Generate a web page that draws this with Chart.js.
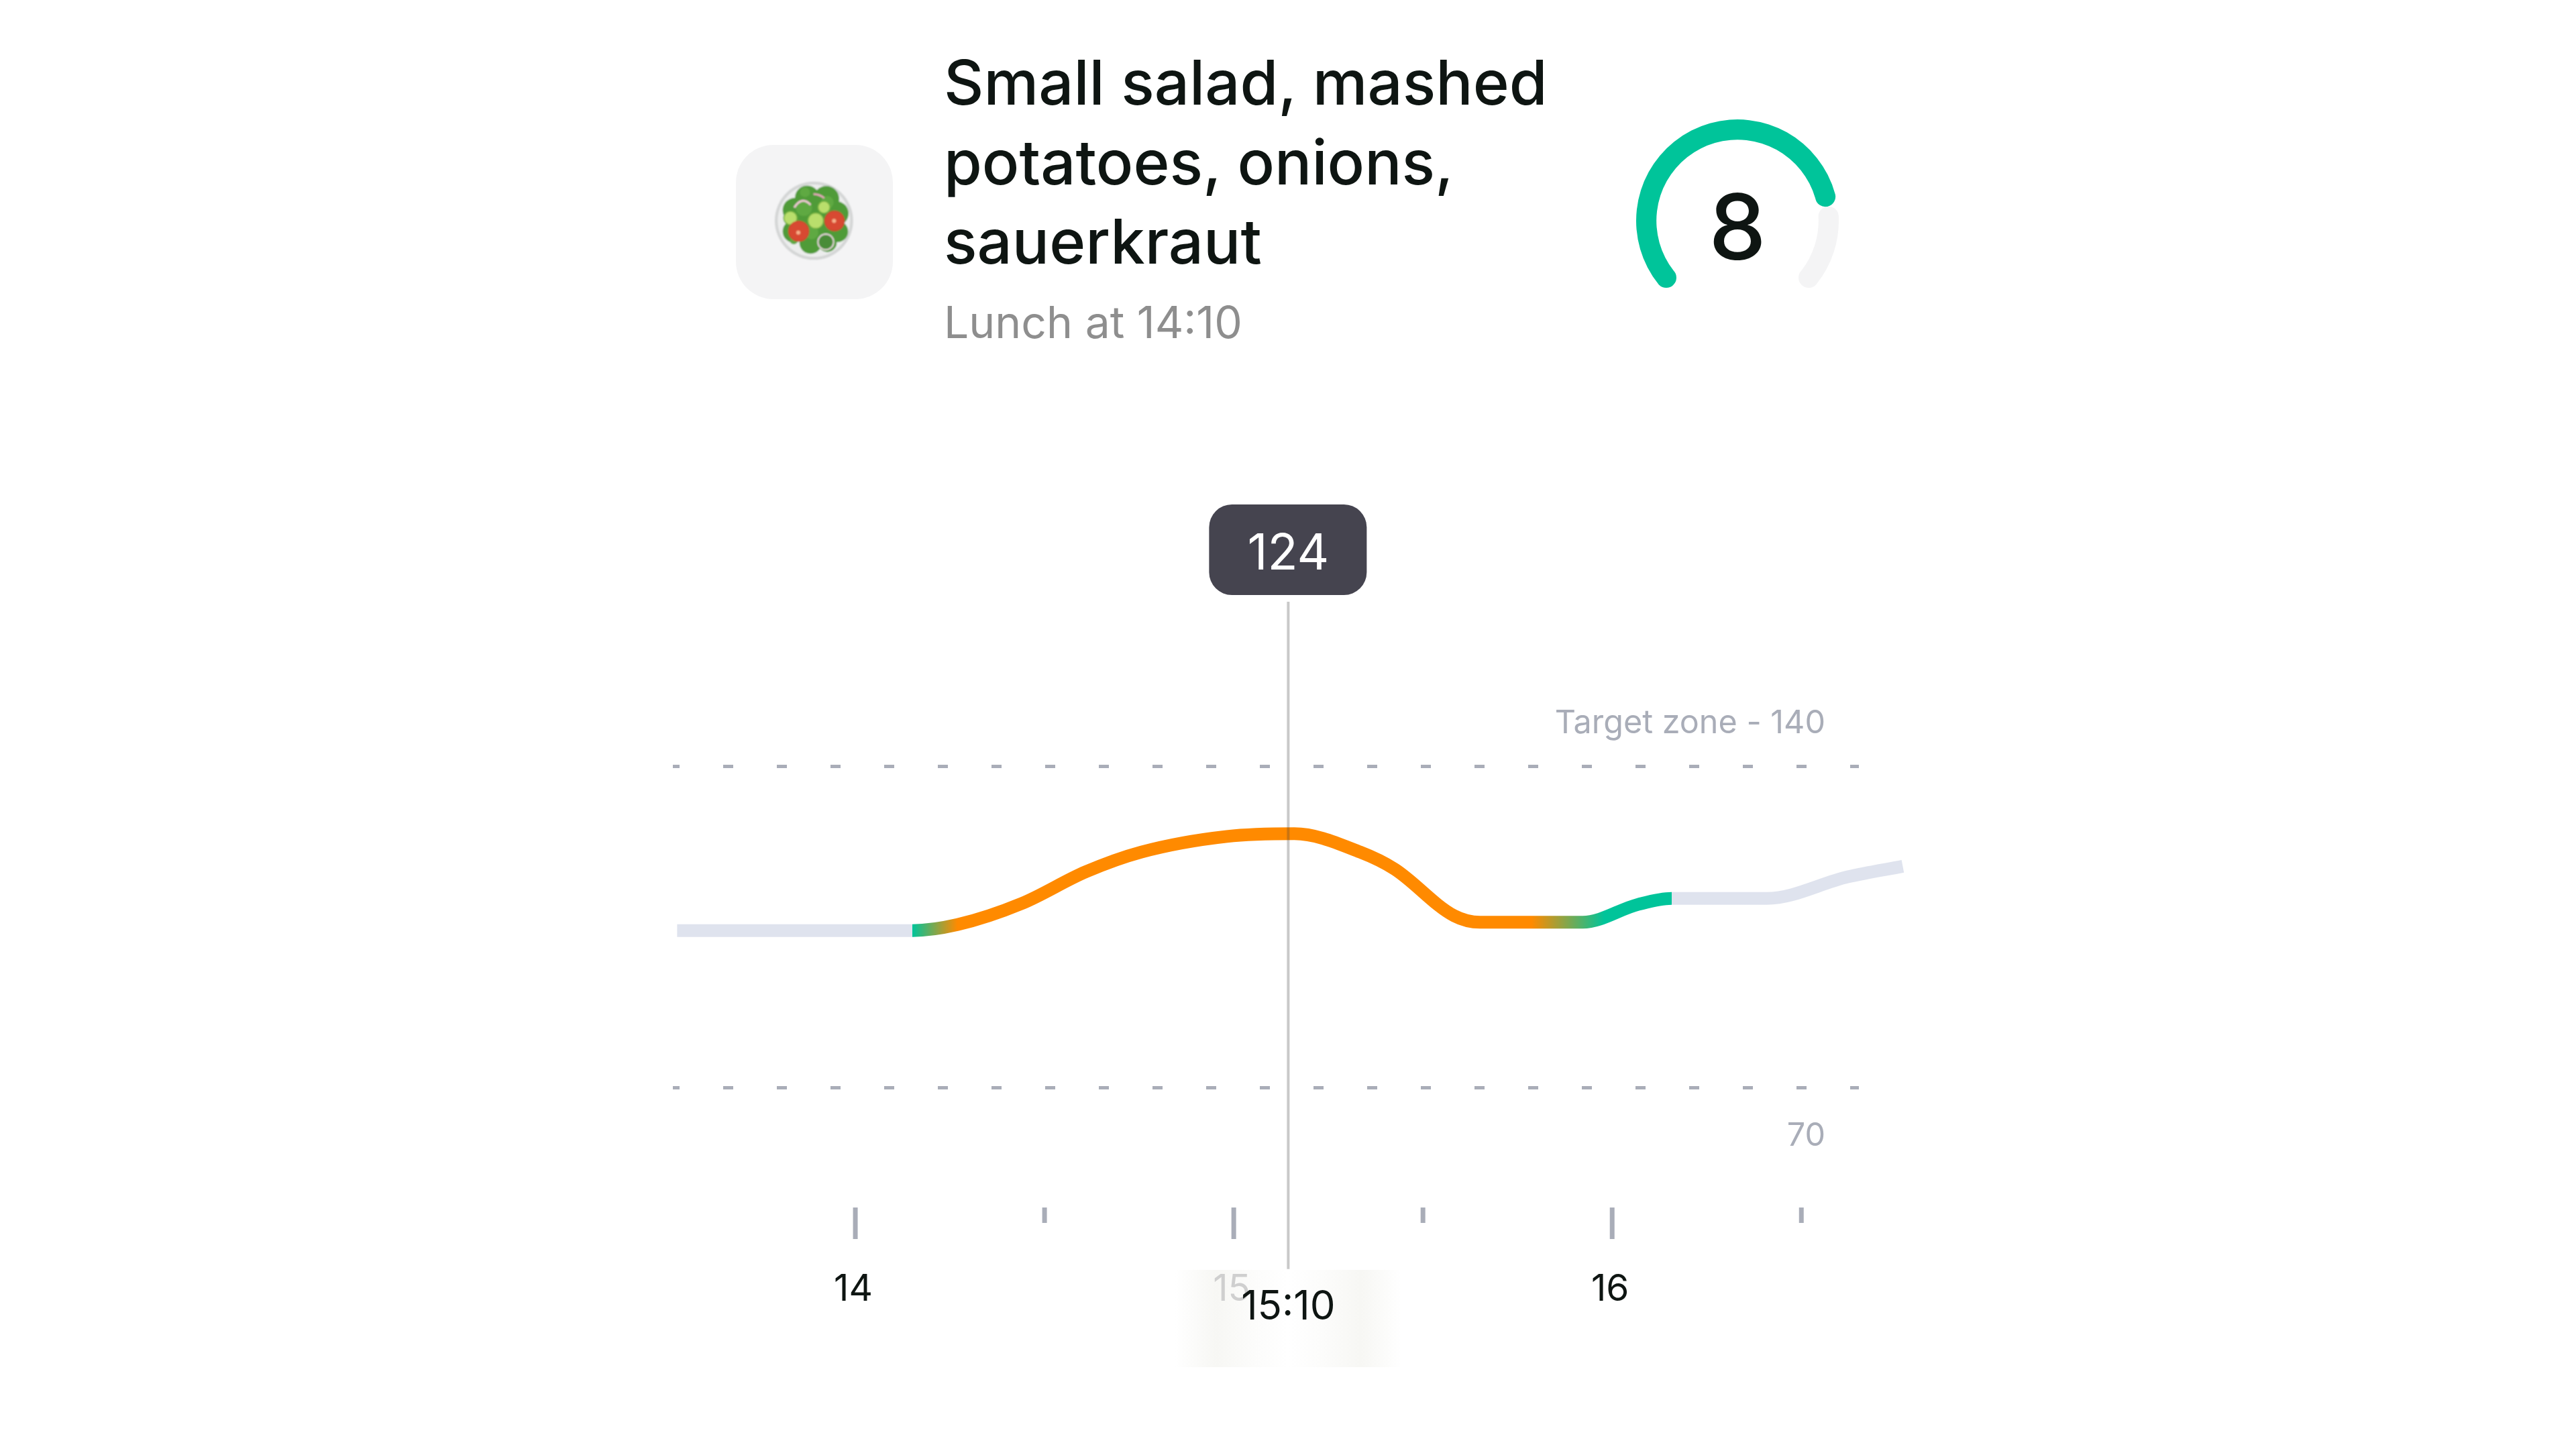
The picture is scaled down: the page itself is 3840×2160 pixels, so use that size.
<!DOCTYPE html>
<html>
<head>
<meta charset="utf-8"/>
<title>Small salad, mashed potatoes, onions, sauerkraut</title>
<script src="https://cdn.jsdelivr.net/npm/chart.js@4"></script>
<style>
html, body{ margin: 0; padding: 0; width: 3840px; height: 2160px; background: #fff; overflow: hidden; font-family: Inter, sans-serif; }
#mychart{ position: absolute; left: 0; top: 0; z-index: 2; }
#gauge{ position: absolute; left: 2439px; top: 178px; z-index: 2; }
#icon{ position: absolute; left: 1097px; top: 216px; width: 234px; height: 230px; border-radius: 56px; background: #f4f4f5; }
#salad{ position: absolute; left: 1120px; top: 230px; width: 240px; height: 210px; }
#title{ position: absolute; left: 1407px; top: 64px; font-size: 92px; font-weight: 500; line-height: 118.5px; color: #0e1512; white-space: nowrap; }
#subtitle{ position: absolute; left: 1407px; top: 440px; font-size: 66px; line-height: 80px; color: #8e8e8e; white-space: nowrap; }
#score{ position: absolute; left: 2439px; width: 302px; top: 258px; text-align: center; font-size: 136px; font-weight: 500; line-height: 160px; color: #0e1512; z-index: 3; }
#fade{ position: absolute; left: 1752px; top: 1893px; width: 338px; height: 145px; z-index: 1;
  background: linear-gradient( to right, #fff 0%, #f7f7f4 18%, #fcfcfb 35%, #fff 50%, #fcfcfb 65%, #f7f7f4 82%, #fff 100% ); }
</style>
</head>
<body>
<div id="icon"></div>
<svg id="salad" viewBox="0 0 720 630">
  <defs><filter id="soft"><feGaussianBlur stdDeviation="2.4"/></filter></defs>
  <g filter="url(#soft)">
    <circle cx="280" cy="297" r="175" fill="#d4d6d6"/>
    <circle cx="280" cy="297" r="162" fill="#eceded"/>
    <g fill="#4f9b38">
      <circle cx="250" cy="195" r="55"/><circle cx="335" cy="200" r="58"/>
      <circle cx="195" cy="250" r="55"/><circle cx="380" cy="265" r="55"/>
      <circle cx="190" cy="345" r="50"/><circle cx="385" cy="345" r="48"/>
      <circle cx="265" cy="395" r="50"/><circle cx="340" cy="395" r="42"/>
      <circle cx="280" cy="295" r="115"/>
    </g>
    <g fill="#5fa943">
      <circle cx="235" cy="240" r="36"/><circle cx="340" cy="215" r="28"/>
      <circle cx="270" cy="350" r="30"/><circle cx="190" cy="385" r="18"/>
      <circle cx="240" cy="170" r="22"/>
    </g>
    <path d="M192 238 Q225 185 265 226" fill="none" stroke="#f0c8d4" stroke-width="9"/>
    <path d="M278 178 Q305 178 326 196" fill="none" stroke="#e8a8bc" stroke-width="8"/>
    <g fill="#b9de6c" stroke="#6fae3e" stroke-width="5">
      <circle cx="175" cy="285" r="30"/><circle cx="288" cy="297" r="35"/><circle cx="325" cy="237" r="27"/>
    </g>
    <g fill="#d84a30" stroke="#c9402a" stroke-width="4">
      <circle cx="372" cy="298" r="44"/><circle cx="212" cy="344" r="45"/>
    </g>
    <circle cx="370" cy="298" r="9" fill="#f6b08a"/><circle cx="210" cy="350" r="9" fill="#f6b08a"/>
    <circle cx="333" cy="392" r="35" fill="#4a8c39" stroke="#efdbe2" stroke-width="6"/>
  </g>
</svg>
<div id="title">Small salad, mashed<br/>potatoes, onions,<br/>sauerkraut</div>
<div id="subtitle">Lunch at 14:10</div>
<div id="score">8</div>
<div id="fade"></div>
<canvas id="gauge" width="302" height="258"></canvas>
<canvas id="mychart" width="3840" height="2160"></canvas>

<script>
//. glucose curve, x in hours of the day
var hours = [ 13.529, 14.151, 14.270, 14.440, 14.609, 14.756, 14.982, 15.160,
  15.334, 15.425, 15.583, 15.651, 15.922, 16.069, 16.157, 16.409, 16.623, 16.768 ];
var glucose = [ 104.2, 104.2, 105.5, 110.1, 117.0, 121.3, 124.7, 125.3,
  121.3, 117.6, 107.4, 106.0, 106.0, 109.9, 111.2, 111.2, 115.9, 118.2 ];

//. where the line changes colour: grey | green > orange > green | grey
var zone_hours = [ 14.151, 14.270, 15.787, 15.979, 16.157 ];

var x_ticks = [ 14, 14.5, 15, 15.5, 16, 16.5 ];
var y_ticks = [ 70, 140 ];
var y_labels = [ '70', 'Target zone - 140' ];

var cursor_hour = 15.144;
var cursor_range = [ 175.8, 30.5 ];
var cursor_value = '124';
var cursor_label = '15:10';

var score = [ 8, 2 ];

var GREY = '#dfe3ee', GREEN = '#00c49a', ORANGE = '#ff8a00', TICK = '#a9adb8';

function lineGradient( context ){
  var chart = context.chart;
  if( !chart.chartArea ){ return GREY; }
  var x = chart.scales.x;
  var g = chart.ctx.createLinearGradient( 0, 0, chart.width, 0 );
  function pos( h ){ return x.getPixelForValue( h ) / chart.width; }
  g.addColorStop( 0, GREY );
  g.addColorStop( pos( zone_hours[0] ), GREY );
  g.addColorStop( pos( zone_hours[0] ), GREEN );
  g.addColorStop( pos( zone_hours[1] ), ORANGE );
  g.addColorStop( pos( zone_hours[2] ), ORANGE );
  g.addColorStop( pos( zone_hours[3] ), GREEN );
  g.addColorStop( pos( zone_hours[4] ), GREEN );
  g.addColorStop( pos( zone_hours[4] ), GREY );
  g.addColorStop( 1, GREY );
  return g;
}

//. half hour ticks are shorter, the library has only one tick length
var extras = {
  id: 'extras',
  afterDatasetsDraw: function( chart ){
    var ctx = chart.ctx, x = chart.scales.x, y = chart.scales.y;
    var bottom = chart.chartArea.bottom;

    ctx.save();
    ctx.strokeStyle = TICK;
    ctx.lineWidth = 7;
    x_ticks.forEach( function( t ){
      var px = x.getPixelForValue( t );
      ctx.beginPath();
      ctx.moveTo( px, bottom );
      ctx.lineTo( px, bottom + ( Number.isInteger( t ) ? 47 : 23 ) );
      ctx.stroke();
    });

    //. zone labels
    ctx.font = '48.5px Inter';
    ctx.fillStyle = TICK;
    ctx.textAlign = 'right';
    ctx.textBaseline = 'alphabetic';
    ctx.fillText( y_labels[1], 2721, y.getPixelForValue( y_ticks[1] ) - 49 );
    ctx.fillText( y_labels[0], 2721, y.getPixelForValue( y_ticks[0] ) + 87 );

    //. badge with the value under the cursor
    var cx = x.getPixelForValue( cursor_hour );
    ctx.fillStyle = '#45444f';
    ctx.beginPath();
    ctx.roundRect( cx - 118, 752, 235, 135, 34 );
    ctx.fill();
    ctx.font = '74px Inter';
    ctx.fillStyle = '#ffffff';
    ctx.textAlign = 'center';
    ctx.fillText( cursor_value, cx, 849 );

    //. time under the cursor
    ctx.font = '60px Inter';
    ctx.fillStyle = '#0e1512';
    ctx.fillText( cursor_label, cx, 1967 );
    ctx.restore();
  }
};

var points = hours.map( function( h, i ){ return { x: h, y: glucose[i] }; } );
var cursor = cursor_range.map( function( v ){ return { x: cursor_hour, y: v }; } );

new Chart( document.getElementById( 'mychart' ), {
  type: 'line',
  plugins: [ extras ],
  data: {
    datasets: [
      {
        data: cursor,
        borderColor: 'rgba( 60, 60, 60, 0.28 )',
        borderWidth: 4,
        pointRadius: 0,
        clip: false
      },
      {
        data: points,
        borderColor: lineGradient,
        borderWidth: 19,
        borderCapStyle: 'butt',
        borderJoinStyle: 'round',
        cubicInterpolationMode: 'monotone',
        pointRadius: 0,
        clip: false
      }
    ]
  },
  options: {
    responsive: false,
    devicePixelRatio: 1,
    animation: false,
    events: [],
    layout: { padding: { left: 1003, right: 1069, top: 897, bottom: 0 } },
    plugins: { legend: { display: false }, tooltip: { enabled: false } },
    scales: {
      x: {
        type: 'linear',
        min: 13.5177,
        max: 16.652,
        afterBuildTicks: function( scale ){
          scale.ticks = x_ticks.map( function( v ){ return { value: v }; } );
        },
        afterFit: function( scale ){ scale.height = 360; },
        grid: { drawOnChartArea: false, drawTicks: false },
        border: { display: false },
        ticks: {
          autoSkip: false,
          maxRotation: 0,
          padding: 89,
          labelOffset: -3,
          font: { family: 'Inter', size: 55 },
          color: function( c ){ return c.tick && c.tick.value == 15 ? '#cfcfcf' : '#0e1512'; },
          callback: function( v ){ return Number.isInteger( v ) ? String( v ) : ''; }
        }
      },
      y: {
        type: 'linear',
        min: 43.9,
        max: 175.8,
        afterBuildTicks: function( scale ){
          scale.ticks = y_ticks.map( function( v ){ return { value: v }; } );
        },
        grid: { color: TICK, lineWidth: 5, drawTicks: false },
        border: { display: false, dash: [ 15, 65 ], dashOffset: 5 },
        ticks: { display: false }
      }
    }
  }
});

//. score gauge, 8 of 10 over a 270 degree arc
new Chart( document.getElementById( 'gauge' ), {
  type: 'doughnut',
  data: {
    datasets: [ {
      data: score,
      backgroundColor: [ GREEN, '#f4f4f5' ],
      borderWidth: 0,
      borderRadius: 15
    } ]
  },
  options: {
    responsive: false,
    devicePixelRatio: 1,
    animation: false,
    events: [],
    rotation: -135,
    circumference: 270,
    cutout: '80%',
    plugins: { legend: { display: false }, tooltip: { enabled: false } }
  }
});
</script>
</body>
</html>
